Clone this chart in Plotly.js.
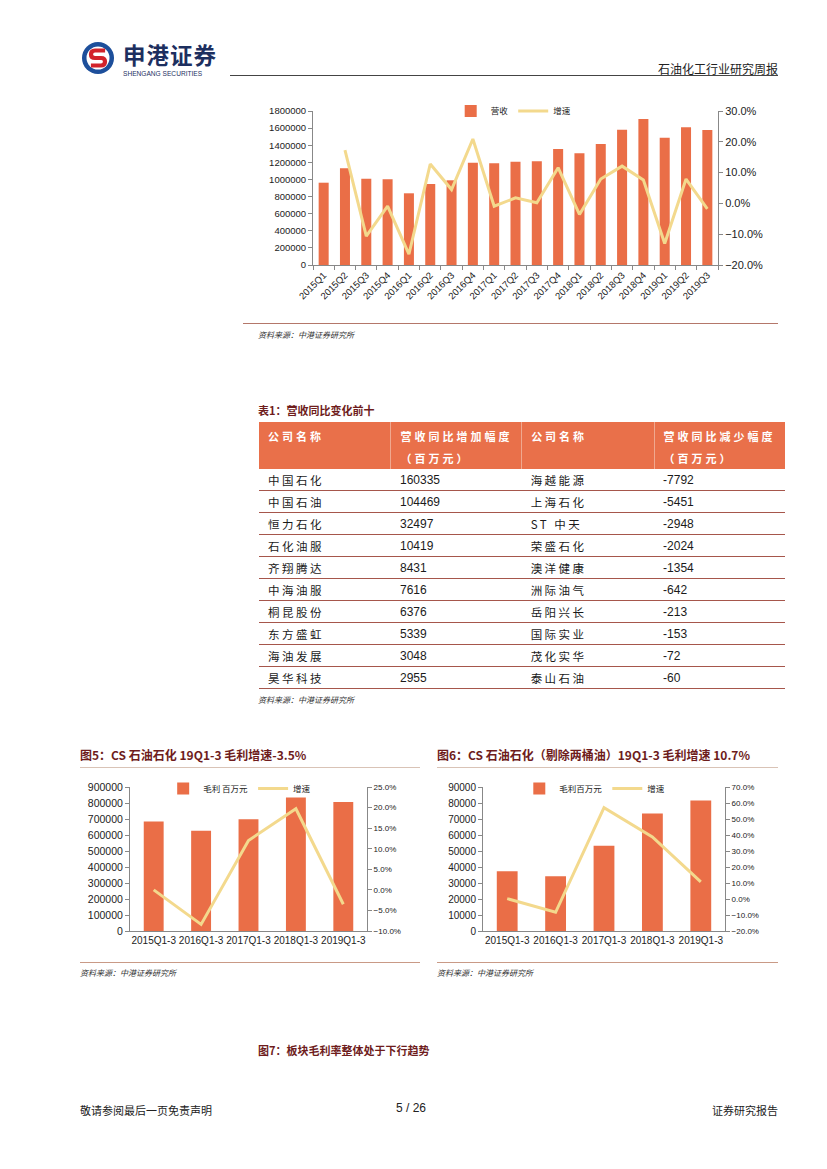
<!DOCTYPE html>
<html>
<head>
<meta charset="utf-8">
<script src="https://cdn.plot.ly/plotly-3.0.1.min.js"></script>
<style>
  html, body { margin:0; padding:0; background:#fff; }
  body { width:827px; height:1169px; position:relative; overflow:hidden; font-family:"Noto Sans CJK SC","Liberation Sans",sans-serif; }
  .abs { position:absolute; }
  .cap { font-weight:bold; color:#6e1c1c; font-size:11px; white-space:nowrap; }
  .src { font-size:8px; color:#333; font-style:italic; white-space:nowrap; }
  .hr { position:absolute; height:0; }
  table.t { position:absolute; border-collapse:collapse; font-size:11.5px; }
  table.t th { background:#E9704A; color:#fff; font-weight:bold; text-align:left; vertical-align:top; padding:3px 0 0 9px; letter-spacing:3px; font-size:11px; line-height:22px; height:40px; border-right:1px solid #f0a88f; }
  table.t th:last-child { border-right:none; }
  table.t td { padding:0 0 0 9px; height:21px; border-bottom:1.5px solid #a6564b; color:#1a1a1a; white-space:nowrap; }
  td.cn { letter-spacing:2.5px; }
  td.num { font-family:"Liberation Sans",Arial,sans-serif; font-size:12px; }
</style>
</head>
<body>
<!-- header -->
<svg class="abs" style="left:80px;top:40px" width="36" height="36" viewBox="0 0 36 36">
  <circle cx="18" cy="18" r="16" fill="#1d4f9b"/>
  <circle cx="18" cy="18" r="11.5" fill="#fff"/>
  <path d="M23 10.5 H15 Q11 10.5 11 14.5 Q11 18 15 18 H21 Q25 18 25 21.5 Q25 25.5 21 25.5 H13" fill="none" stroke="#d2232a" stroke-width="4.2" stroke-linecap="square"/>
</svg>
<div class="abs" style="left:123px;top:42px;height:24px;font-size:22.5px;line-height:24px;font-weight:bold;color:#1d2f5f;letter-spacing:1px;white-space:nowrap;overflow:visible">申港证券</div>
<div class="abs" style="left:123px;top:70px;font-size:6.6px;line-height:7px;color:#1d2f5f;font-family:'Liberation Sans',Arial;white-space:nowrap">SHENGANG SECURITIES</div>
<div class="abs" style="right:49px;top:60px;font-size:12px;color:#222;white-space:nowrap">石油化工行业研究周报</div>
<div class="hr" style="left:230px;top:75px;width:548px;border-top:1.6px solid #444"></div>

<div id="c1" class="abs" style="left:240px;top:100px;width:550px;height:210px"></div>
<div class="hr" style="left:243px;top:323px;width:535px;border-top:1.3px solid #b4776a"></div>
<div class="abs src" style="left:258px;top:329px">资料来源：中港证券研究所</div>

<div class="abs cap" style="left:258px;top:402px">表1：营收同比变化前十</div>
<table class="t" id="tbl" style="left:259px;top:422px;width:526px"></table>
<div class="abs src" style="left:258px;top:694px">资料来源：中港证券研究所</div>

<div class="abs cap" style="left:80px;top:746px;font-size:12px">图5：CS 石油石化 19Q1-3 毛利增速-3.5%</div>
<div class="hr" style="left:80px;top:767px;width:340px;border-top:1px solid #d9c3b6"></div>
<div id="c5" class="abs" style="left:70px;top:775px;width:350px;height:180px"></div>
<div class="hr" style="left:80px;top:962px;width:340px;border-top:1.3px solid #c99a86"></div>
<div class="abs src" style="left:80px;top:967px">资料来源：中港证券研究所</div>

<div class="abs cap" style="left:437px;top:746px;font-size:12px">图6：CS 石油石化（剔除两桶油）19Q1-3 毛利增速 10.7%</div>
<div class="hr" style="left:437px;top:767px;width:341px;border-top:1px solid #d9c3b6"></div>
<div id="c6" class="abs" style="left:430px;top:775px;width:360px;height:180px"></div>
<div class="hr" style="left:437px;top:962px;width:341px;border-top:1.3px solid #c99a86"></div>
<div class="abs src" style="left:437px;top:967px">资料来源：中港证券研究所</div>

<div class="abs cap" style="left:258px;top:1042px">图7：板块毛利率整体处于下行趋势</div>

<div class="abs" style="left:80px;top:1102px;font-size:11px;color:#222">敬请参阅最后一页免责声明</div>
<div class="abs" style="left:396px;top:1101px;font-size:12px;color:#222;font-family:'Liberation Sans',Arial">5 / 26</div>
<div class="abs" style="right:49px;top:1102px;font-size:11px;color:#222">证券研究报告</div>

<script>
// ---------- data ----------
const quarters = ["2015Q1","2015Q2","2015Q3","2015Q4","2016Q1","2016Q2","2016Q3","2016Q4","2017Q1","2017Q2","2017Q3","2017Q4","2018Q1","2018Q2","2018Q3","2018Q4","2019Q1","2019Q2","2019Q3"];
const revenue = [962000,1130000,1009000,1001000,838000,947000,990000,1196000,1188000,1208000,1212000,1356000,1305000,1414000,1582000,1706000,1488000,1609000,1578000];
const revenueGrowth = [null,0.173,-0.106,-0.009,-0.165,0.128,0.045,0.209,-0.009,0.018,0.002,0.116,-0.036,0.079,0.121,0.076,-0.130,0.079,-0.018];

const periods = ["2015Q1-3","2016Q1-3","2017Q1-3","2018Q1-3","2019Q1-3"];
const grossProfitAll = [685000,627000,698000,835000,806000];
const grossGrowthAll = [0.000,-0.084,0.120,0.197,-0.035];
const grossProfitEx = [37300,34200,53300,73500,81500];
const grossGrowthEx = [0.002,-0.083,0.571,0.388,0.107];

const incNames = ["中国石化","中国石油","恒力石化","石化油服","齐翔腾达","中海油服","桐昆股份","东方盛虹","海油发展","昊华科技"];
const incValues = [160335,104469,32497,10419,8431,7616,6376,5339,3048,2955];
const decNames = ["海越能源","上海石化","ST 中天","荣盛石化","澳洋健康","洲际油气","岳阳兴长","国际实业","茂化实华","泰山石油"];
const decValues = [-7792,-5451,-2948,-2024,-1354,-642,-213,-153,-72,-60];
const tableHeaders = ["公司名称","营收同比增加幅度<br>（百万元）","公司名称","营收同比减少幅度<br>（百万元）"];

// ---------- table ----------
const tbl = document.getElementById('tbl');
let html = '<tr>' + tableHeaders.map((h,i)=>`<th style="width:${[131,131,131,133][i]}px">${h}</th>`).join('') + '</tr>';
for (let i=0;i<incNames.length;i++){
  html += `<tr><td class="cn">${incNames[i]}</td><td class="num">${incValues[i]}</td><td class="cn">${decNames[i]}</td><td class="num">${decValues[i]}</td></tr>`;
}
tbl.innerHTML = html;

// ---------- charts ----------
const BAR = '#EA6E47';
const LINE = '#F3D98D';
const NUMFONT = 'Liberation Sans, Arial, sans-serif';
const CJK = 'Noto Sans CJK SC, sans-serif';
const cfg = {displayModeBar:false, staticPlot:true};

function axisCommon(){
  return {showgrid:false, zeroline:false, showline:true, linecolor:'#888', linewidth:1, ticks:'outside', ticklen:4, tickcolor:'#888', automargin:false};
}

// Chart 1
Plotly.newPlot('c1', [
  {type:'bar', x:quarters, y:revenue, name:'营收', marker:{color:BAR}, yaxis:'y'},
  {type:'scatter', mode:'lines', x:quarters, y:revenueGrowth, name:'增速', line:{color:LINE, width:3}, yaxis:'y2', connectgaps:false}
], {
  width:550, height:210, margin:{l:73, r:72, t:11, b:45, autoexpand:false},
  paper_bgcolor:'#fff', plot_bgcolor:'#fff', bargap:0.53,
  font:{family:NUMFONT, size:9.5, color:'#222'},
  xaxis:Object.assign(axisCommon(), {tickangle:-45, tickson:'boundaries', ticklen:4, tickfont:{size:9.5}}),
  yaxis:Object.assign(axisCommon(), {range:[0,1800000], dtick:200000, tickformat:'d', tickfont:{size:9.5}}),
  yaxis2:Object.assign(axisCommon(), {overlaying:'y', side:'right', range:[-0.2,0.3], dtick:0.1, tickformat:'.1%', tickfont:{size:11}}),
  legend:{orientation:'h', x:0.34, y:1.0, xanchor:'left', yanchor:'middle', font:{family:CJK, size:8.5}, itemwidth:30, bgcolor:'rgba(0,0,0,0)'},
  showlegend:true
}, cfg);

// Chart 5
Plotly.newPlot('c5', [
  {type:'bar', x:periods, y:grossProfitAll, name:'毛利 百万元', marker:{color:BAR}, yaxis:'y'},
  {type:'scatter', mode:'lines', x:periods, y:grossGrowthAll, name:'增速', line:{color:LINE, width:3}, yaxis:'y2'}
], {
  width:350, height:180, margin:{l:60, r:53, t:12, b:24, autoexpand:false},
  paper_bgcolor:'#fff', plot_bgcolor:'#fff', bargap:0.58,
  font:{family:NUMFONT, size:10, color:'#222'},
  xaxis:Object.assign(axisCommon(), {ticks:'', tickfont:{size:10}}),
  yaxis:Object.assign(axisCommon(), {range:[0,900000], dtick:100000, tickformat:'d', tickfont:{size:10.5}}),
  yaxis2:Object.assign(axisCommon(), {overlaying:'y', side:'right', range:[-0.1,0.25], dtick:0.05, tickformat:'.1%', tickfont:{size:8}}),
  legend:{orientation:'h', x:0.14, y:0.99, xanchor:'left', yanchor:'middle', font:{family:CJK, size:8.5}, itemwidth:30, bgcolor:'rgba(0,0,0,0)'},
  showlegend:true
}, cfg);

// Chart 6
Plotly.newPlot('c6', [
  {type:'bar', x:periods, y:grossProfitEx, name:'毛利百万元', marker:{color:BAR}, yaxis:'y'},
  {type:'scatter', mode:'lines', x:periods, y:grossGrowthEx, name:'增速', line:{color:LINE, width:3}, yaxis:'y2'}
], {
  width:360, height:180, margin:{l:53, r:65, t:12, b:24, autoexpand:false},
  paper_bgcolor:'#fff', plot_bgcolor:'#fff', bargap:0.57,
  font:{family:NUMFONT, size:10, color:'#222'},
  xaxis:Object.assign(axisCommon(), {ticks:'', tickfont:{size:10}}),
  yaxis:Object.assign(axisCommon(), {range:[0,90000], dtick:10000, tickformat:'d', tickfont:{size:10}}),
  yaxis2:Object.assign(axisCommon(), {overlaying:'y', side:'right', range:[-0.2,0.7], dtick:0.1, tickformat:'.1%', tickfont:{size:8}}),
  legend:{orientation:'h', x:0.15, y:0.99, xanchor:'left', yanchor:'middle', font:{family:CJK, size:8.5}, itemwidth:30, bgcolor:'rgba(0,0,0,0)'},
  showlegend:true
}, cfg);
</script>
</body>
</html>
